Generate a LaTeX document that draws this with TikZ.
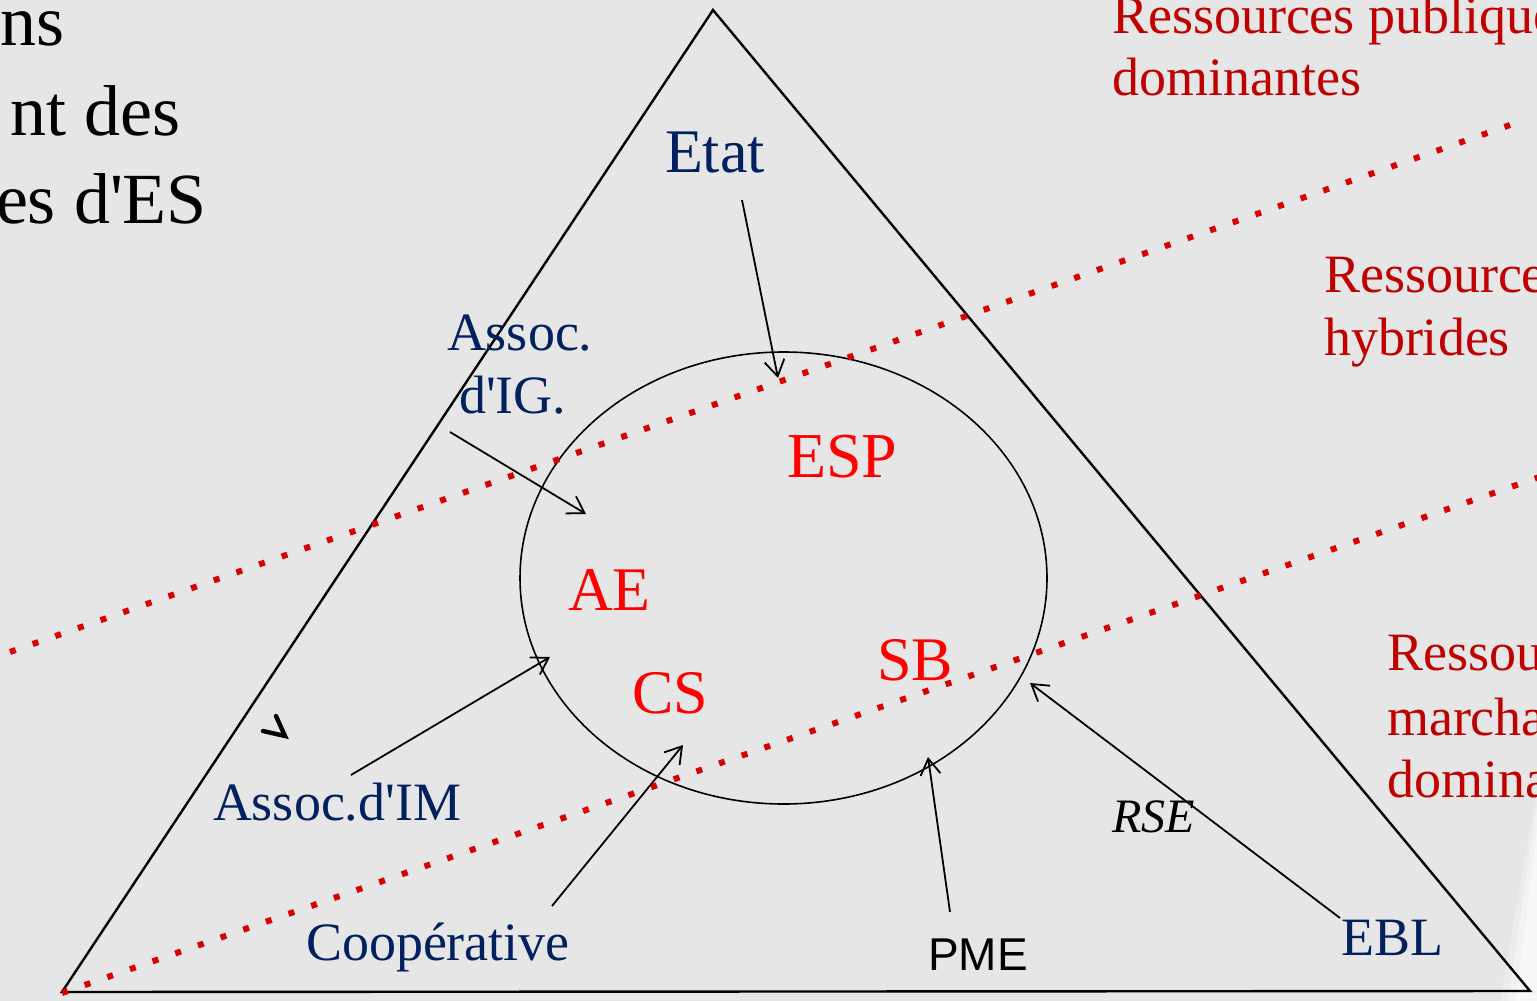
\documentclass[tikz,border=0pt]{standalone}
\usepackage{fontspec}
\setmainfont{Liberation Serif}
\newfontfamily\sansf{Liberation Sans}
\usetikzlibrary{arrows.meta}
\definecolor{bg}{HTML}{E6E6E6}
\definecolor{navy}{HTML}{002060}
\definecolor{dred}{HTML}{C00000}
\definecolor{bred}{HTML}{FF0000}
\definecolor{dotred}{HTML}{D80000}
\newcommand{\apos}{\textquotesingle}
\begin{document}
\begin{tikzpicture}[x=0.5pt,y=-0.5pt,
  lbl/.style={anchor=base west,inner sep=0pt,outer sep=0pt},
  blk/.style={anchor=base east,inner sep=0pt,outer sep=0pt,font=\fontsize{36}{40}\selectfont},
  actor/.style={lbl,text=navy,font=\fontsize{27}{32}\selectfont},
  kind/.style={lbl,text=bred,font=\fontsize{31}{36}\selectfont},
  res/.style={lbl,text=dred,font=\fontsize{27}{32}\selectfont},
  dotline/.style={draw=dotred,line width=3pt,dash pattern=on 3pt off 9pt},
  arr/.style={draw=black,line width=0.9pt,-{Straight Barb[length=8pt,width=10pt,line width=0.9pt]}}]
\useasboundingbox (0,0) rectangle (1537,1001);
\begin{scope}
\clip (0,0) rectangle (1537,1001);
\fill[bg] (0,0) rectangle (1537,1001);
% soft white glow at bottom right
\fill[white,opacity=0.25] (1537,790) -- (1500,1001) -- (1537,1001) -- cycle;
\fill[white,opacity=0.35] (1537,805) -- (1508,1001) -- (1537,1001) -- cycle;
\fill[white,opacity=0.5] (1537,830) -- (1516,1001) -- (1537,1001) -- cycle;

% triangle and circle
\draw[line width=1.2pt] (713,10) -- (62,992) -- (1530,991) -- cycle;
\draw[line width=0.8pt] (783.5,578) ellipse [x radius=131.75pt, y radius=113pt];

% dotted separators
\coordinate (d1a) at (10,652);
\coordinate (d1b) at (1510,125);
\coordinate (d2a) at (62,993);
\coordinate (d2b) at (1548,474);
\draw[dotline] (d1a) -- (d1b);
\draw[dotline] (d2a) -- (d2b);

% top-left black text (cut)
\node[blk] (t1) at (65,45) {ns};
\node[blk] (t2) at (180,135) {nt des};
\node[blk] (t3) at (207,223) {es d\apos ES};

% resource labels
\node[res] (r1) at (1112,33) {Ressources publique};
\node[res] (r2) at (1112,95) {dominantes};
\node[res] (r3) at (1324,292) {Ressource};
\node[res] (r4) at (1324,355) {hybrides};
\node[res] (r5) at (1387,670) {Ressou};
\node[res] (r6) at (1387,735) {marcha};
\node[res] (r7) at (1387,797) {domina};

% actors
\node[actor,font=\fontsize{31}{36}\selectfont] (etat) at (665,172) {Etat};
\node[actor] (aig1) at (447,350) {Assoc.};
\node[actor] (aig2) at (459,413) {d\apos IG.};
\node[actor] (aim) at (213,820) {Assoc.d\apos IM};
\node[actor] (coop) at (306,960) {Coopérative};
\node[actor] (ebl) at (1341,955) {EBL};
\node[lbl,font=\sansf\fontsize{23}{28}\selectfont] (pme) at (928,970) {PME};
\node[lbl,font=\itshape\fontsize{24}{28}\selectfont] (rse) at (1112,832) {RSE};

% kinds inside circle
\node[kind,font=\fontsize{32}{36}\selectfont] (esp) at (787,477) {ESP};
\node[kind] (ae) at (568,610) {AE};
\node[kind] (cs) at (632,713) {CS};
\node[kind] (sb) at (877,680) {SB};

% arrows
\coordinate (etatS) at (742,200);  \coordinate (etatE) at (778,378);
\coordinate (aigS) at (450,432);   \coordinate (aigE) at (586,514);
\coordinate (aimS) at (351,775);   \coordinate (aimE) at (550,657);
\coordinate (coopS) at (552,906);  \coordinate (coopE) at (683,745);
\coordinate (pmeS) at (950,912);   \coordinate (pmeE) at (928,757);
\coordinate (eblS) at (1340,918);  \coordinate (eblE) at (1030,683);
\draw[arr] (etatS) -- (etatE);
\draw[arr] (aigS) -- (aigE);
\draw[arr] (aimS) -- (aimE);
\draw[arr] (coopS) -- (coopE);
\draw[arr] (pmeS) -- (pmeE);
\draw[arr] (eblS) -- (eblE);

% small chevron mark
\coordinate (m1) at (276,716);
\coordinate (m2) at (285,736);
\coordinate (m3) at (263,731);
\draw[line width=2.2pt,line cap=round,line join=miter] (m1) -- (m2) -- (m3);
\end{scope}
\end{tikzpicture}
\end{document}
